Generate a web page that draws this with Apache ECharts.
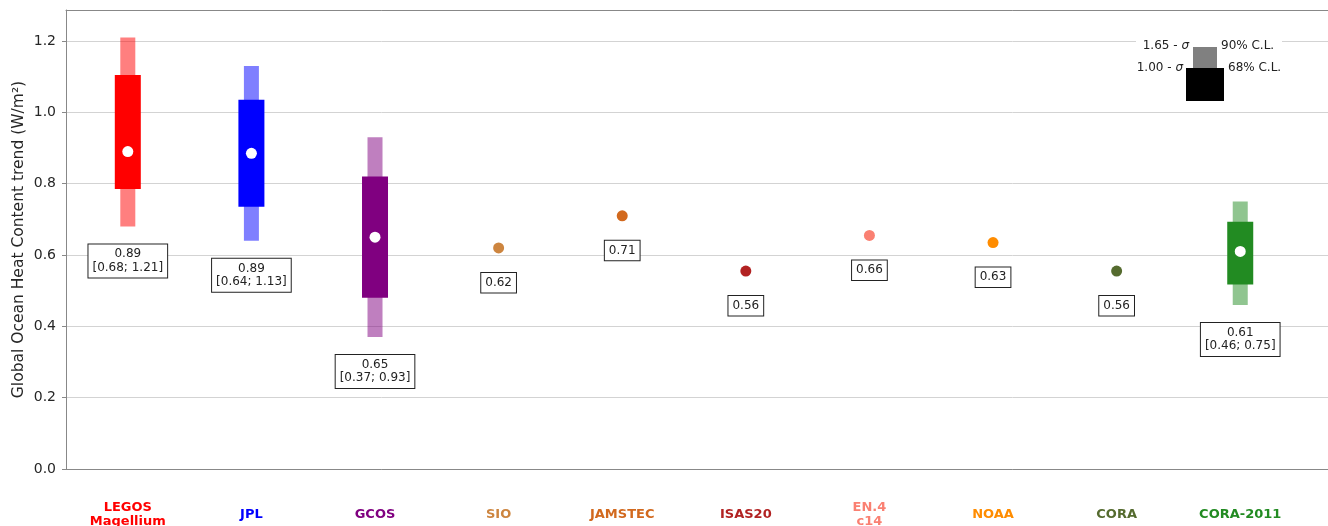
<!DOCTYPE html>
<html>
<head>
<meta charset="utf-8">
<script src="https://cdn.jsdelivr.net/npm/echarts@6/dist/echarts.min.js"></script>
<style>
  html, body { margin: 0; padding: 0; background: #fff; }
  #chart { width: 1328px; height: 526px; }
</style>
</head>
<body>
<div id="chart"></div>
<script>
// products and their colours
const products = ['LEGOS\nMagellium', 'JPL', 'GCOS', 'SIO', 'JAMSTEC', 'ISAS20', 'EN.4\nc14', 'NOAA', 'CORA', 'CORA-2011'];
const colors = ['#ff0000', '#0000ff', '#800080', '#cd853f', '#d2691e', '#b22222', '#fa8072', '#ff8c00', '#556b2f', '#228b22'];
const positions = [0, 1, 2, 3, 4, 5, 6, 7, 8, 9];

// trend (W/m2) and the confidence ranges
const trend = [0.89, 0.885, 0.65, 0.62, 0.71, 0.555, 0.655, 0.635, 0.555, 0.61];
const trendText = ['0.89', '0.89', '0.65', '0.62', '0.71', '0.56', '0.66', '0.63', '0.56', '0.61'];
const lo90 = [0.68, 0.64, 0.37, null, null, null, null, null, null, 0.46];
const hi90 = [1.21, 1.13, 0.93, null, null, null, null, null, null, 0.75];
const lo68 = [0.785, 0.735, 0.48, null, null, null, null, null, null, 0.517];
const hi68 = [1.105, 1.035, 0.82, null, null, null, null, null, null, 0.693];

const yTicks = [0, 0.2, 0.4, 0.6, 0.8, 1.0, 1.2];

const font = 'DejaVu Sans';

function fade(hex, a) {
  const n = parseInt(hex.slice(1), 16);
  return 'rgba(' + (n >> 16) + ',' + ((n >> 8) & 255) + ',' + (n & 255) + ',' + a + ')';
}

function renderItem(params, api) {
  const i = params.dataIndex;
  const c = colors[i];
  const center = api.coord([positions[i], trend[i]]);
  const x = center[0];
  const kids = [];
  let labelTop;
  let text;
  if (lo90[i] != null) {
    const t90 = api.coord([positions[i], hi90[i]])[1];
    const b90 = api.coord([positions[i], lo90[i]])[1];
    const t68 = api.coord([positions[i], hi68[i]])[1];
    const b68 = api.coord([positions[i], lo68[i]])[1];
    kids.push({ type: 'rect', shape: { x: x - 7.5, y: t90, width: 15, height: b90 - t90 }, style: { fill: fade(c, 0.5) } });
    kids.push({ type: 'rect', shape: { x: x - 13, y: t68, width: 26, height: b68 - t68 }, style: { fill: c } });
    kids.push({ type: 'circle', shape: { cx: x, cy: center[1], r: 5.5 }, style: { fill: '#fff' } });
    labelTop = b90 + 18;
    text = trendText[i] + '\n[' + lo90[i].toFixed(2) + '; ' + hi90[i].toFixed(2) + ']';
  } else {
    kids.push({ type: 'circle', shape: { cx: x, cy: center[1], r: 5.5 }, style: { fill: c } });
    labelTop = center[1] + 25;
    text = trendText[i];
  }
  kids.push({
    type: 'text',
    style: {
      text: text, x: x, y: labelTop, align: 'center', verticalAlign: 'top',
      fontFamily: font, fontSize: 12, lineHeight: 13.5, fill: '#222',
      backgroundColor: '#fff', borderColor: '#222', borderWidth: 1, padding: [3, 4]
    }
  });
  return { type: 'group', children: kids };
}

const chart = echarts.init(document.getElementById('chart'));
chart.setOption({
  animation: false,
  backgroundColor: '#fff',
  grid: { left: 66, top: 10, right: 0, bottom: 57, containLabel: false, outerBoundsMode: 'none' },
  xAxis: [{
    type: 'value',
    min: -0.5, max: 9.71,
    axisTick: { show: false },
    axisLine: { onZero: false, lineStyle: { color: '#888', width: 1 } },
    axisLabel: {
      customValues: positions, margin: 46, verticalAlign: 'middle',
      fontFamily: font, fontSize: 13, fontWeight: 'bold', lineHeight: 14,
      formatter: v => products[Math.round(v)] || '',
      color: v => colors[Math.round(v)] || '#000'
    },
    splitLine: { show: false }
  }, {
    type: 'value', position: 'top',
    min: -0.5, max: 9.71,
    axisTick: { show: false },
    axisLabel: { show: false },
    axisLine: { show: true, onZero: false, lineStyle: { color: '#888', width: 1 } },
    splitLine: { show: false }
  }],
  yAxis: {
    type: 'value',
    min: 0, max: 1.287, interval: 0.2,
    name: 'Global Ocean Heat Content trend (W/m²)',
    nameLocation: 'middle', nameGap: 39, nameMoveOverlap: false,
    nameTextStyle: { fontFamily: font, fontSize: 15.5, color: '#262626' },
    axisLine: { show: true, onZero: false, lineStyle: { color: '#888', width: 1 } },
    axisTick: { show: true, length: 4, lineStyle: { color: '#888' } },
    axisLabel: {
      margin: 10, fontFamily: font, fontSize: 14, color: '#262626', showMaxLabel: false,
      formatter: v => (yTicks.some(t => Math.abs(t - v) < 1e-6) ? v.toFixed(1) : '')
    },
    splitLine: { show: true, lineStyle: { color: '#d3d3d3', width: 1 } }
  },
  series: [{
    type: 'custom',
    renderItem: renderItem,
    data: trend.map((v, i) => [positions[i], v]),
    encode: { x: 0, y: 1 },
    clip: false
  }],
  graphic: [
    { type: 'rect', z: 10, shape: { x: 1136, y: 38, width: 146, height: 66 }, style: { fill: '#fff' } },
    { type: 'rect', z: 11, shape: { x: 1193, y: 47, width: 24, height: 21 }, style: { fill: '#808080' } },
    { type: 'rect', z: 11, shape: { x: 1186, y: 68, width: 38, height: 33 }, style: { fill: '#000' } },
    {
      type: 'text', z: 11, x: 1189, y: 46,
      style: { text: '1.65 - {i|σ}', align: 'right', verticalAlign: 'middle', fontFamily: font, fontSize: 12, fill: '#222',
        rich: { i: { fontStyle: 'italic', fontFamily: font, fontSize: 12 } } }
    },
    {
      type: 'text', z: 11, x: 1183, y: 68,
      style: { text: '1.00 - {i|σ}', align: 'right', verticalAlign: 'middle', fontFamily: font, fontSize: 12, fill: '#222',
        rich: { i: { fontStyle: 'italic', fontFamily: font, fontSize: 12 } } }
    },
    { type: 'text', z: 11, x: 1221, y: 46, style: { text: '90% C.L.', verticalAlign: 'middle', fontFamily: font, fontSize: 12, fill: '#222' } },
    { type: 'text', z: 11, x: 1228, y: 68, style: { text: '68% C.L.', verticalAlign: 'middle', fontFamily: font, fontSize: 12, fill: '#222' } }
  ]
});
window.onresize = chart.resize;
</script>
</body>
</html>
